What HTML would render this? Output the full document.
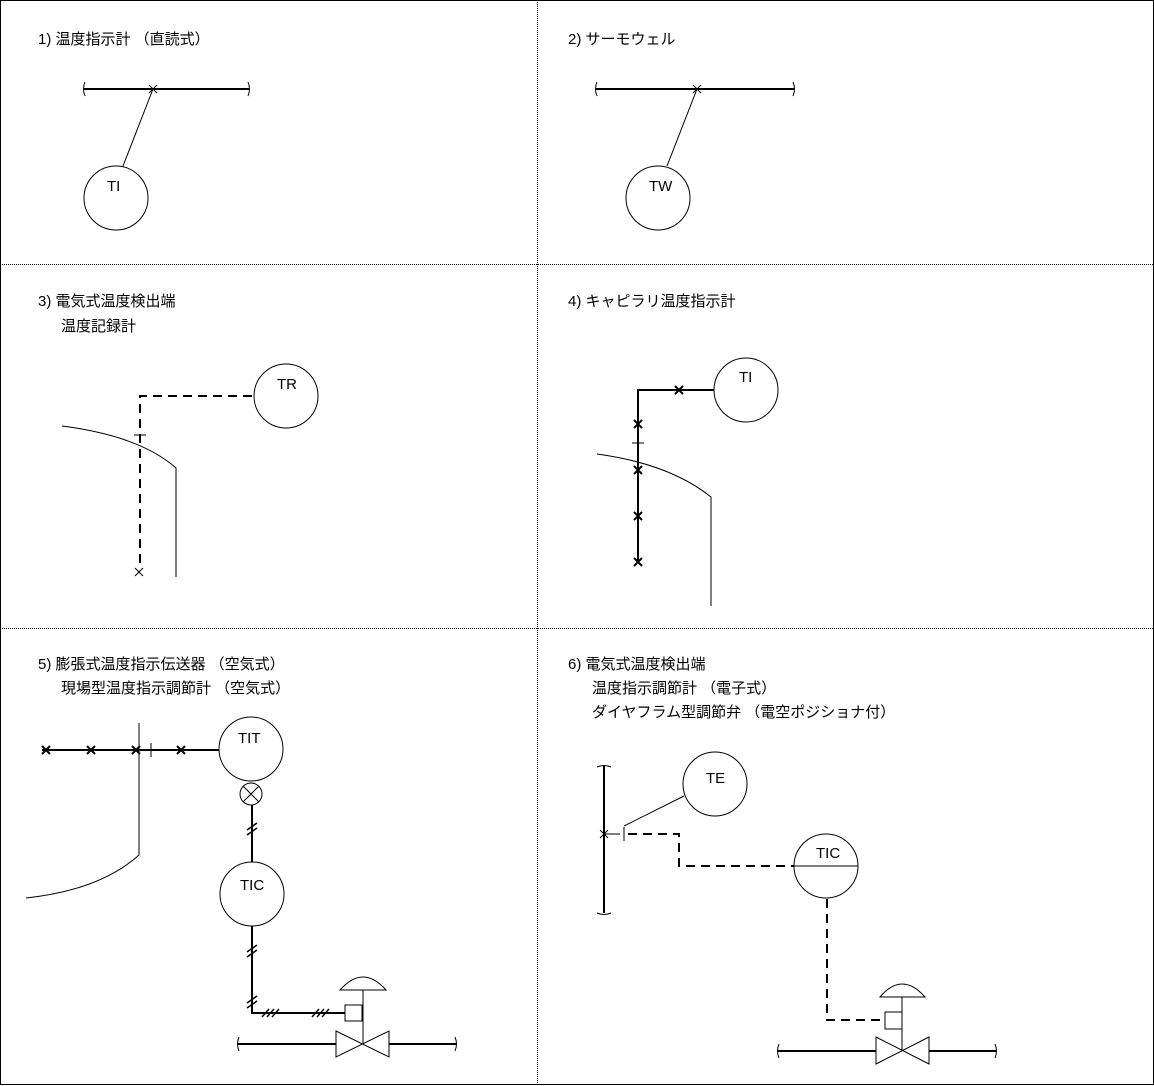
<!DOCTYPE html>
<html><head><meta charset="utf-8"><style>
html,body{margin:0;padding:0;background:#fff;}
svg{display:block}
text{font-family:"Liberation Sans","Noto Sans CJK JP",sans-serif;font-size:15px;fill:#000}
.l{font-family:"Liberation Sans Narrow","Liberation Sans",sans-serif;font-size:15px}
</style></head><body>
<svg width="1154" height="1086" viewBox="0 0 1154 1086" xmlns="http://www.w3.org/2000/svg" fill="none" stroke="#000">
<rect x="0.5" y="0.5" width="1153" height="1084" stroke-width="1"/>
<g stroke-dasharray="1,1" stroke-width="1">
<line x1="537.5" y1="0" x2="537.5" y2="1085"/>
<line x1="0" y1="264.5" x2="1154" y2="264.5"/>
<line x1="0" y1="628.5" x2="1154" y2="628.5"/>
</g>
<g stroke="none">
<text x="38" y="44">1) 温度指示計 （直読式）</text>
<text x="568" y="44">2) サーモウェル</text>
<text x="38" y="306">3) 電気式温度検出端</text>
<text x="61" y="331">温度記録計</text>
<text x="568" y="306">4) キャピラリ温度指示計</text>
<text x="38" y="669">5) 膨張式温度指示伝送器 （空気式）</text>
<text x="61" y="693">現場型温度指示調節計 （空気式）</text>
<text x="568" y="669">6) 電気式温度検出端</text>
<text x="592" y="693">温度指示調節計 （電子式）</text>
<text x="592" y="717">ダイヤフラム型調節弁 （電空ポジショナ付）</text>
<text class="l" x="107" y="191">TI</text>
<text class="l" x="649" y="191">TW</text>
<text class="l" x="277" y="389">TR</text>
<text class="l" x="739" y="382">TI</text>
<text class="l" x="238" y="743">TIT</text>
<text class="l" x="240" y="890">TIC</text>
<text class="l" x="706" y="783">TE</text>
<text class="l" x="816" y="858">TIC</text>
</g>
<!-- panel 1 -->
<line x1="84" y1="89" x2="249" y2="89" stroke-width="2"/>
<path d="M85 82 q-3 7 0 14 M248 82 q3 7 0 14"/>
<path d="M149 85 l8 8 M157 85 l-8 8"/>
<line x1="153" y1="89" x2="123" y2="166"/>
<circle cx="116" cy="198" r="32"/>
<!-- panel 2 -->
<line x1="596" y1="89" x2="794" y2="89" stroke-width="2"/>
<path d="M597 82 q-3 7 0 14 M793 82 q3 7 0 14"/>
<path d="M693 85 l8 8 M701 85 l-8 8"/>
<line x1="697" y1="89" x2="667" y2="166"/>
<circle cx="658" cy="198" r="32"/>
<!-- panel 3 -->
<circle cx="286" cy="396" r="32"/>
<path d="M252 396 H140 V568" stroke-width="2" stroke-dasharray="9,6"/>
<line x1="134" y1="435" x2="146" y2="435"/>
<path d="M135 568 l8 8 M143 568 l-8 8"/>
<path d="M62 426 Q140 436 176 468 V577"/>
<!-- panel 4 -->
<circle cx="746" cy="390" r="32"/>
<path d="M714 390 H638 V563" stroke-width="2"/>
<line x1="632" y1="443" x2="644" y2="443"/>
<g stroke-width="2">
<path d="M675 386 l8 8 M683 386 l-8 8"/>
<path d="M634 420 l8 8 M642 420 l-8 8"/>
<path d="M634 466 l8 8 M642 466 l-8 8"/>
<path d="M634 512 l8 8 M642 512 l-8 8"/>
<path d="M634 558 l8 8 M642 558 l-8 8"/>
</g>
<path d="M597 454 Q670 464 711 497 V606"/>
<!-- panel 5 -->
<circle cx="251" cy="749" r="32"/>
<line x1="42" y1="750" x2="219" y2="750" stroke-width="2"/>
<g stroke-width="2">
<path d="M42 746 l8 8 M50 746 l-8 8"/>
<path d="M87 746 l8 8 M95 746 l-8 8"/>
<path d="M132 746 l8 8 M140 746 l-8 8"/>
<path d="M177 746 l8 8 M185 746 l-8 8"/>
</g>
<line x1="151" y1="743" x2="151" y2="757"/>
<path d="M139 723 V855 Q100 890 26 898"/>
<circle cx="251" cy="794" r="11"/>
<path d="M243 786 l16 16 M259 786 l-16 16"/>
<path d="M252 805 V862 M252 926 V1013 H345" stroke-width="2"/>
<g stroke-width="1.5">
<path d="M247 830 l10 -7 M247 835 l10 -7"/>
<path d="M247 952 l10 -7 M247 957 l10 -7"/>
<path d="M247 1003 l10 -7 M247 1008 l10 -7"/>
<path d="M262 1017 l7 -8 M267 1017 l7 -8 M272 1017 l7 -8"/>
<path d="M312 1017 l7 -8 M317 1017 l7 -8 M322 1017 l7 -8"/>
</g>
<circle cx="252" cy="894" r="32"/>
<rect x="345" y="1005" width="17" height="16"/>
<line x1="363" y1="990" x2="363" y2="1044"/>
<path d="M340 990 Q363 964 386 990 Z"/>
<path d="M336 1031 L389 1057 V1031 L336 1057 Z"/>
<line x1="238" y1="1044" x2="336" y2="1044" stroke-width="2"/>
<line x1="389" y1="1044" x2="456" y2="1044" stroke-width="2"/>
<path d="M239 1037 q-3 7 0 14 M455 1037 q3 7 0 14"/>
<!-- panel 6 -->
<line x1="604" y1="766" x2="604" y2="913" stroke-width="2"/>
<path d="M597 767 q7 -3 14 0 M597 913 q7 3 14 0"/>
<path d="M600 830 l8 8 M608 830 l-8 8"/>
<line x1="604" y1="834" x2="620" y2="834"/>
<line x1="624" y1="827" x2="624" y2="841"/>
<circle cx="715" cy="784" r="32"/>
<line x1="624" y1="826" x2="684" y2="796"/>
<path d="M628 834 H679 V866 H794" stroke-width="2" stroke-dasharray="9,6"/>
<circle cx="826" cy="866" r="32"/>
<line x1="794" y1="866" x2="858" y2="866"/>
<path d="M827 899 V1020 H885" stroke-width="2" stroke-dasharray="9,6"/>
<rect x="885" y="1012" width="17" height="17"/>
<line x1="902" y1="997" x2="902" y2="1051"/>
<path d="M880 997 Q902 971 925 997 Z"/>
<path d="M876 1037 L929 1064 V1037 L876 1064 Z"/>
<line x1="778" y1="1051" x2="876" y2="1051" stroke-width="2"/>
<line x1="929" y1="1051" x2="996" y2="1051" stroke-width="2"/>
<path d="M779 1044 q-3 7 0 14 M995 1044 q3 7 0 14"/>
</svg>
</body></html>
